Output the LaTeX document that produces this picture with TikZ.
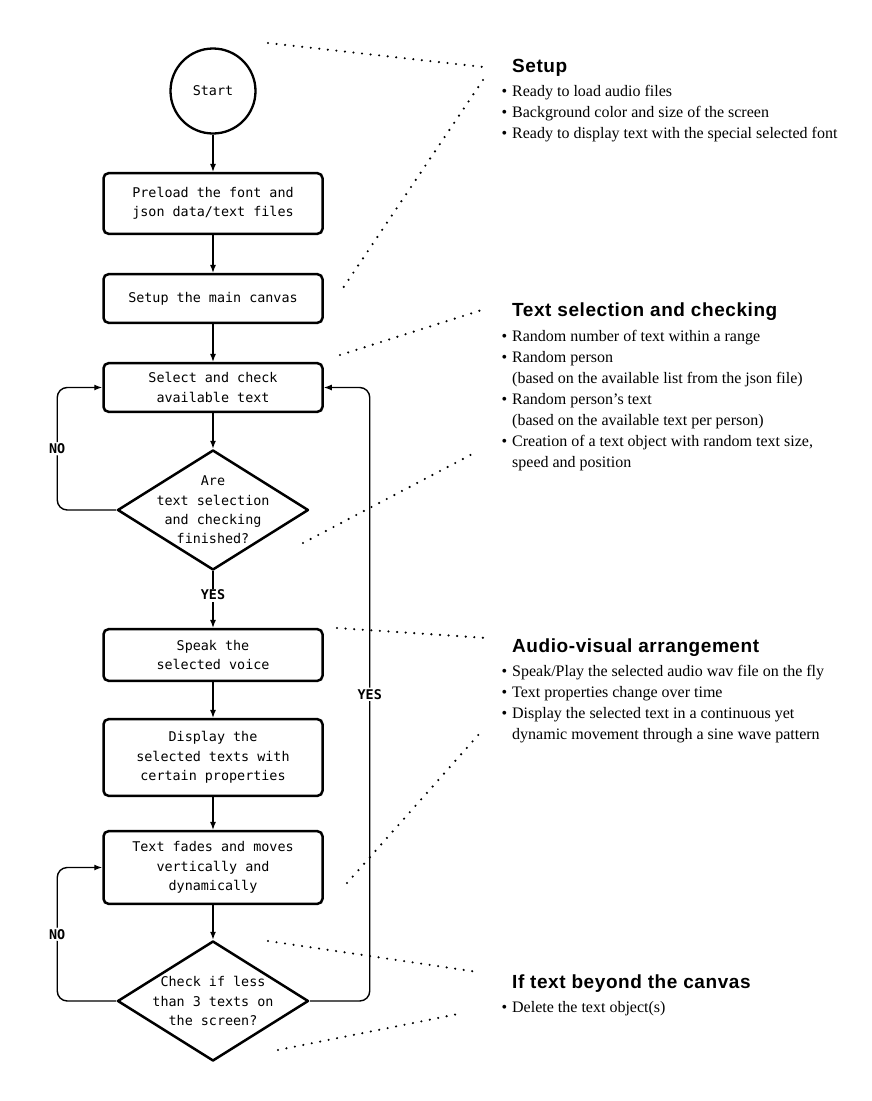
\documentclass[tikz,border=0pt]{standalone}
\usepackage{fontspec}
\setmainfont{Liberation Serif}
\newfontfamily\flowfont{DejaVu Sans Mono}
\newfontfamily\headfont[LetterSpace=3]{Liberation Sans}
\usetikzlibrary{shapes.geometric,arrows.meta}

\begin{document}
\begin{tikzpicture}[x=1pt,y=-1pt,
	every node/.style={font=\flowfont\fontsize{13.4}{19.3}\selectfont},
	startnode/.style={circle,draw,line width=2.3pt,minimum size=85pt},
	box/.style={rectangle,draw,rounded corners=5pt,line width=2.5pt,minimum width=219pt,minimum height=48.6pt,align=center,fill=white},
	decision/.style={diamond,draw,line width=2.5pt,line join=round,aspect=1.58,inner sep=-10pt,minimum width=191pt,minimum height=120pt,align=center},
	flow/.style={-{Latex[length=8pt,width=6pt]},line width=1.4pt},
	lbl/.style={fill=white,inner sep=1.5pt,font=\flowfont\bfseries\fontsize{13.4}{16}\selectfont},
	leader/.style={line width=2.4pt,dash pattern=on 0pt off 8.6pt,line cap=round},
	heading/.style={anchor=base west,inner sep=0pt,font=\headfont\bfseries\fontsize{19}{23}\selectfont},
	notes/.style={anchor=north west,inner sep=0pt,align=left,font=\fontsize{16}{21}\selectfont}]
				\useasboundingbox (0,0) rectangle (871,1101);

				% dotted leaders to the notes
				\coordinate (setupA) at (268,43);
				\coordinate (setupB) at (483,67);
				\coordinate (setupC) at (483,80);
				\coordinate (setupD) at (343,288);
				\coordinate (selectA) at (340,355);
				\coordinate (selectB) at (485,309);
				\coordinate (selectC) at (303,543);
				\coordinate (selectD) at (478,451);
				\coordinate (audioA) at (337,628);
				\coordinate (audioB) at (487,638);
				\coordinate (audioC) at (347,883);
				\coordinate (audioD) at (480,733);
				\coordinate (beyondA) at (268,941);
				\coordinate (beyondB) at (478,972);
				\coordinate (beyondC) at (278,1050);
				\coordinate (beyondD) at (463,1013);
				\draw[leader] (setupA) -- (setupB);
				\draw[leader] (setupC) -- (setupD);
				\draw[leader] (selectA) -- (selectB);
				\draw[leader] (selectC) -- (selectD);
				\draw[leader] (audioA) -- (audioB);
				\draw[leader] (audioC) -- (audioD);
				\draw[leader] (beyondA) -- (beyondB);
				\draw[leader] (beyondC) -- (beyondD);

				\node[startnode] (start) at (213,91) {Start};
				\node[box,minimum height=60.6pt] (preload) at (213,203.5) {Preload the font and\\json data/text files};
				\node[box] (canvas) at (213,298.5) {Setup the main canvas};
				\node[box] (select) at (213,387.5) {Select and check\\available text};
				\node[decision] (finished) at (213,510) {Are\\text selection\\and checking\\finished?};
				\node[box,minimum height=51.6pt] (speak) at (213,655) {Speak the\\selected voice};
				\node[box,minimum height=76.6pt] (display) at (213,757.5) {Display the\\selected texts with\\certain properties};
				\node[box,minimum height=72.6pt] (fades) at (213,867.5) {Text fades and moves\\vertically and\\dynamically};
				\node[decision] (less) at (213,1001) {Check if less\\than 3 texts on\\the screen?};

				\draw[flow] (start) -- (preload);
				\draw[flow] (preload) -- (canvas);
				\draw[flow] (canvas) -- (select);
				\draw[flow] (select) -- (finished);
				\draw[flow] (finished) -- node[lbl,pos=0.42] {YES} (speak);
				\draw[flow] (speak) -- (display);
				\draw[flow] (display) -- (fades);
				\draw[flow] (fades) -- (less);
				\draw[flow,rounded corners=10pt] (finished.west) -- ++(-59,0) |- node[lbl,pos=0.25] {NO} (select.west);
				\draw[flow,rounded corners=10pt] (less.west) -- ++(-59,0) |- node[lbl,pos=0.25] {NO} (fades.west);
				\draw[flow,rounded corners=10pt] (less.east) -- ++(60,0) |- node[lbl,pos=0.25] {YES} (select.east);

				\node[heading] (setup) at (512,72.5) {Setup};
				\node[notes] (setuplist) at (512,85) {\llap{\textbullet\hspace{5pt}}Ready to load audio files\\
					\llap{\textbullet\hspace{5pt}}Background color and size of the screen\\
					\llap{\textbullet\hspace{5pt}}Ready to display text with the special selected font};
				\node[heading] (selection) at (512,316.5) {Text selection and checking};
				\node[notes] (selectionlist) at (512,330) {\llap{\textbullet\hspace{5pt}}Random number of text within a range\\
					\llap{\textbullet\hspace{5pt}}Random person\\
					(based on the available list from the json file)\\
					\llap{\textbullet\hspace{5pt}}Random person’s text\\
					(based on the available text per person)\\
					\llap{\textbullet\hspace{5pt}}Creation of a text object with random text size,\\
					speed and position};
				\node[heading] (audio) at (512,652.5) {Audio-visual arrangement};
				\node[notes] (audiolist) at (512,665) {\llap{\textbullet\hspace{5pt}}Speak/Play the selected audio wav file on the fly\\
					\llap{\textbullet\hspace{5pt}}Text properties change over time\\
					\llap{\textbullet\hspace{5pt}}Display the selected text in a continuous yet\\
					dynamic movement through a sine wave pattern};
				\node[heading] (beyond) at (512,988.5) {If text beyond the canvas};
				\node[notes] (beyondlist) at (512,1001) {\llap{\textbullet\hspace{5pt}}Delete the text object(s)};
			\end{tikzpicture}
\end{document}
